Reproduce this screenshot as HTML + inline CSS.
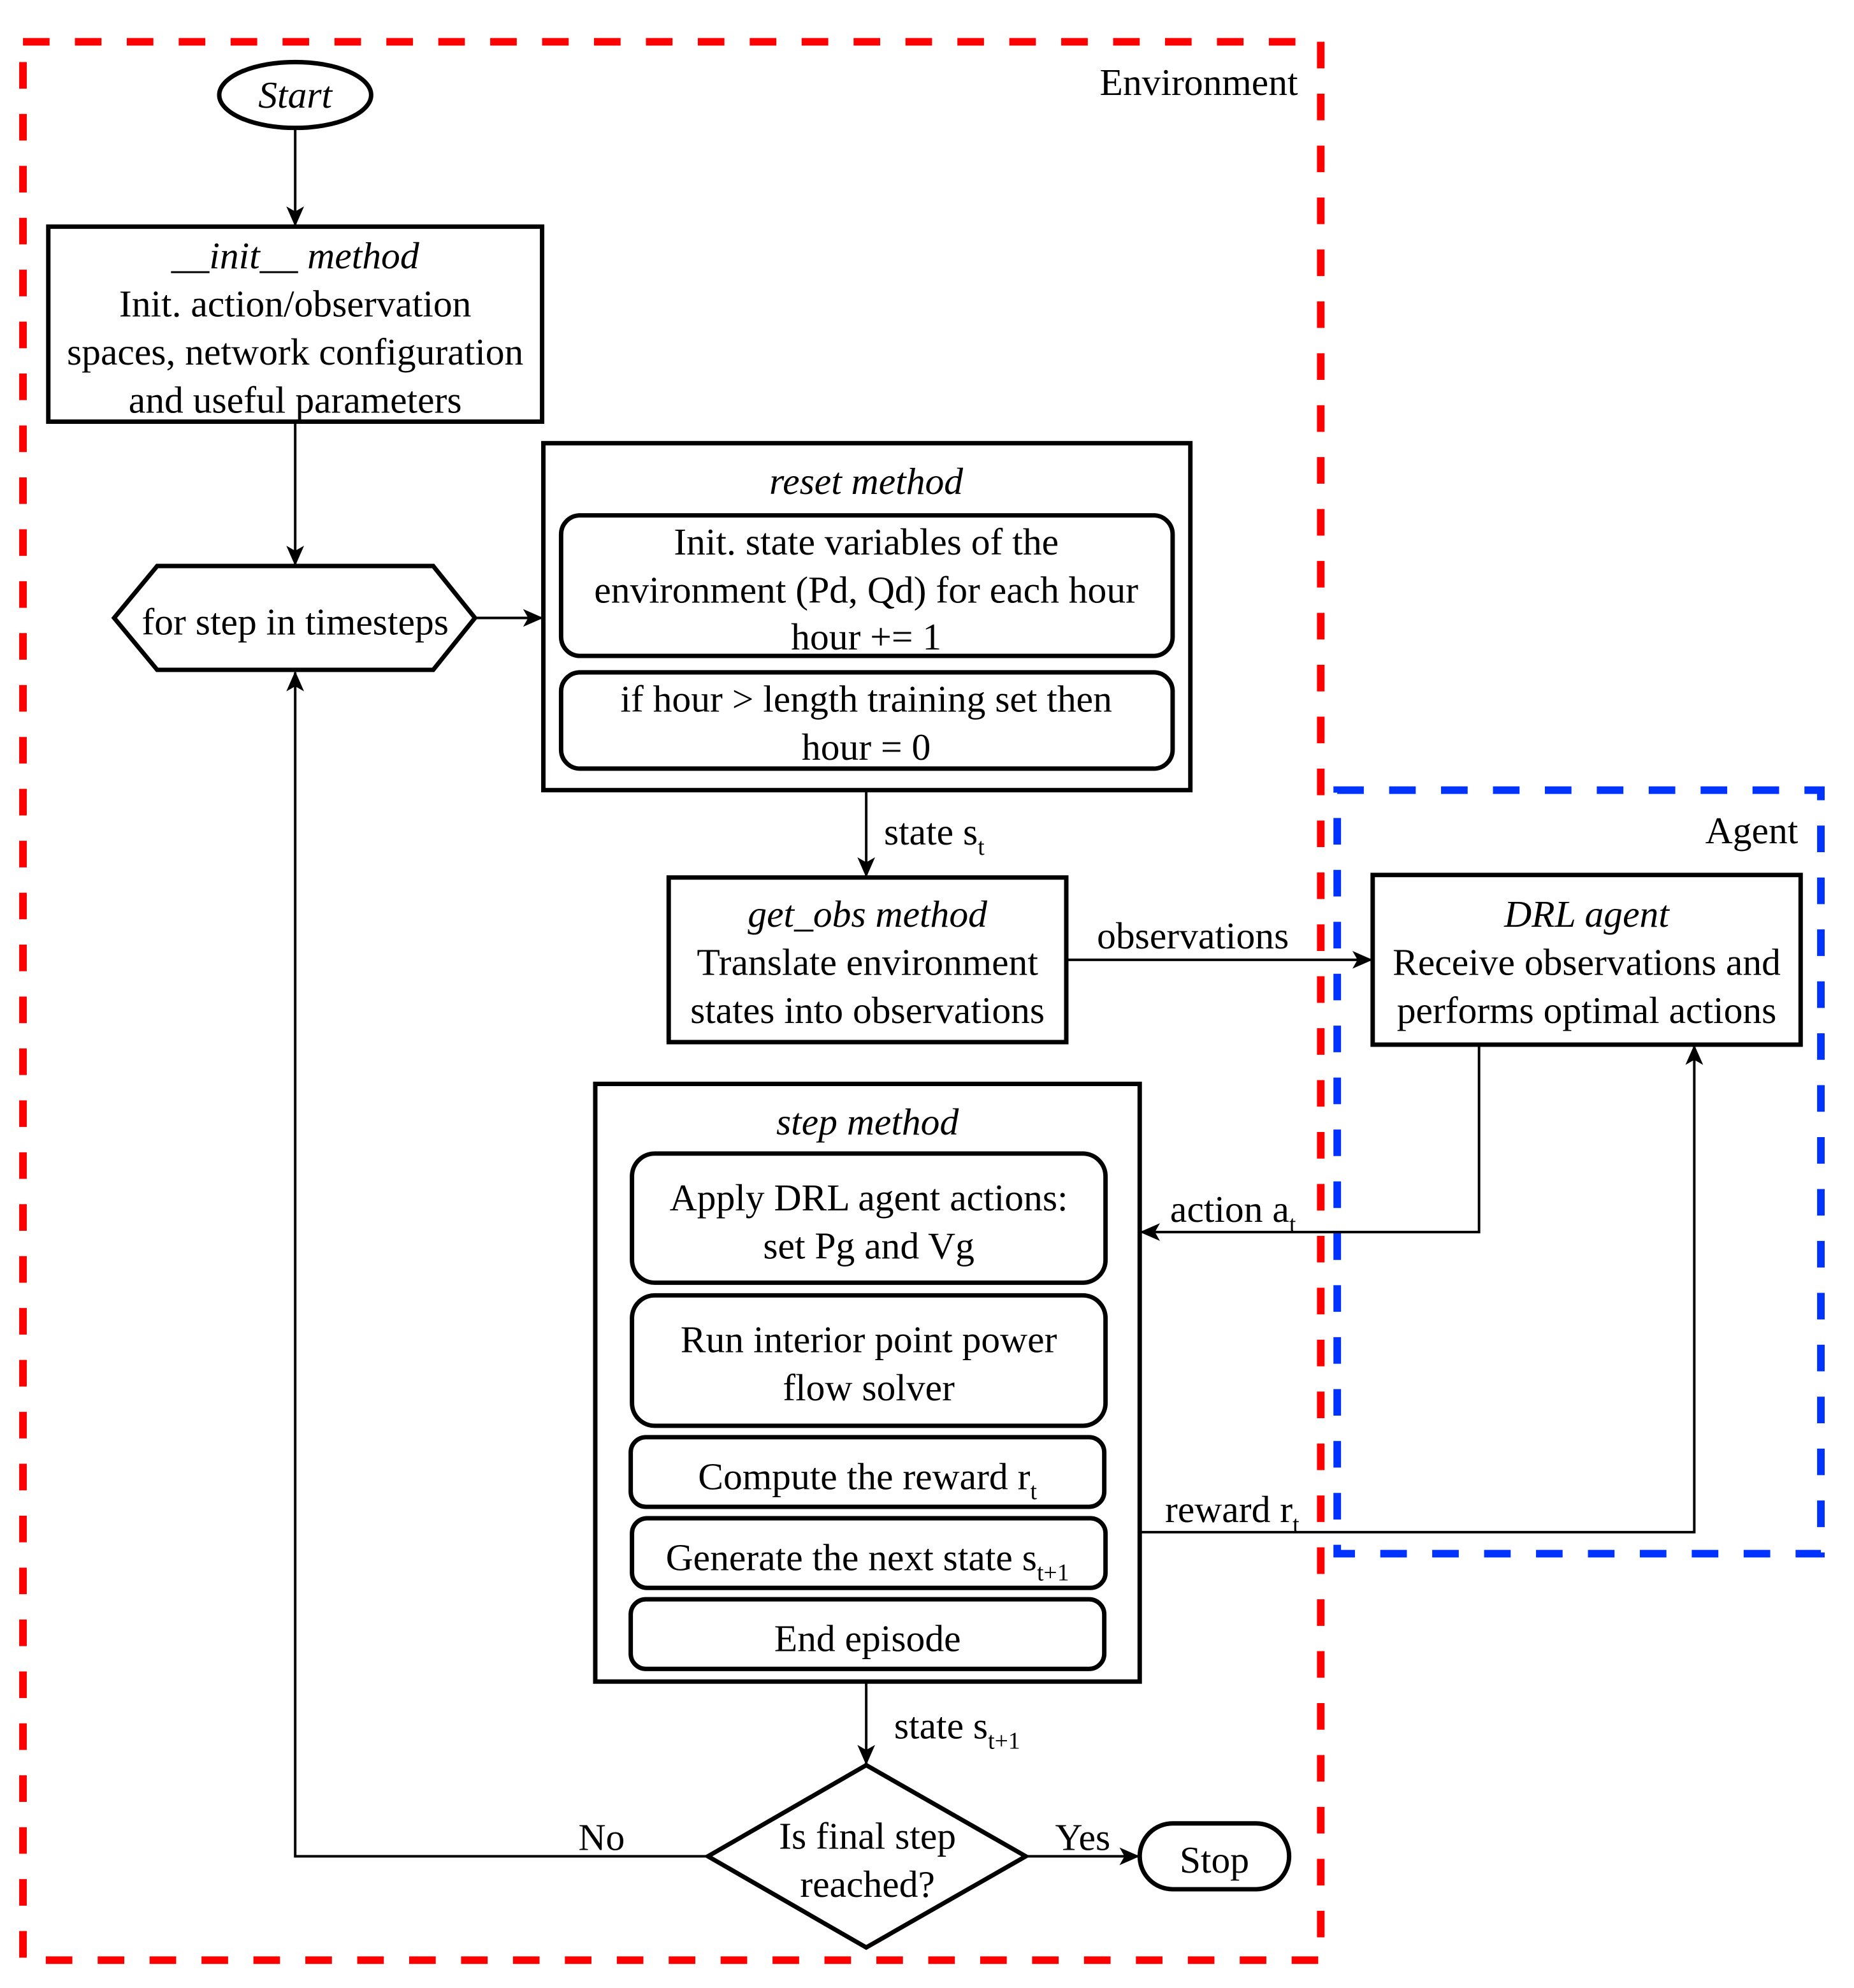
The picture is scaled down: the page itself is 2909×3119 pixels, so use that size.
<!DOCTYPE html>
<html><head><meta charset="utf-8"><style>html,body{margin:0;padding:0;background:#fff}svg{display:block}svg text{font-family:"Liberation Serif","Times New Roman",serif}</style></head>
<body>
<svg width="2909" height="3119" viewBox="0 0 1464 1570" xmlns="http://www.w3.org/2000/svg" font-size="30" text-anchor="middle">
<defs>
<marker id="b" markerWidth="16" markerHeight="14" refX="15" refY="7" orient="auto" markerUnits="userSpaceOnUse"><path d="M0,0 L16,7 L0,14 L4,7 z" fill="#000"/></marker></defs>
<rect x="18" y="33" width="1025" height="1515" fill="none" stroke="#ff0000" stroke-width="6" stroke-dasharray="21 20"/>
<rect x="1056" y="624" width="382" height="603" fill="none" stroke="#0033ff" stroke-width="6" stroke-dasharray="21 20"/>
<text x="1025" y="75" text-anchor="end">Environment</text>
<text x="1420" y="666" text-anchor="end">Agent</text>
<g fill="none" stroke="#000" stroke-width="3.5">
<ellipse cx="233" cy="75" rx="60" ry="26"/>
<rect x="38" y="179" width="390" height="154"/>
<polygon points="90,488 124,447 342,447 375,488 342,529 124,529"/>
<rect x="429" y="350" width="511" height="274"/>
<rect x="443" y="407" width="483" height="111" rx="15"/>
<rect x="443" y="531" width="483" height="76" rx="15"/>
<rect x="528" y="693" width="314" height="130"/>
<rect x="1084" y="691" width="338" height="134"/>
<rect x="470" y="856" width="430" height="472"/>
<rect x="499" y="911" width="374" height="102" rx="18"/>
<rect x="499" y="1023" width="374" height="103" rx="18"/>
<rect x="498" y="1135" width="374" height="55" rx="12"/>
<rect x="499" y="1199" width="374" height="55" rx="12"/>
<rect x="498" y="1263" width="374" height="55" rx="12"/>
<polygon points="559,1466 684,1394 810,1466 684,1538"/>
<rect x="900" y="1440" width="118" height="52" rx="26"/>
</g>
<g fill="none" stroke="#000" stroke-width="2">
<line x1="233" y1="101" x2="233" y2="178" marker-end="url(#b)"/>
<line x1="233" y1="333" x2="233" y2="446" marker-end="url(#b)"/>
<line x1="375" y1="488" x2="428" y2="488" marker-end="url(#b)"/>
<line x1="684" y1="624" x2="684" y2="692" marker-end="url(#b)"/>
<line x1="842" y1="758" x2="1083" y2="758" marker-end="url(#b)"/>
<polyline points="1168,825 1168,973 901,973" marker-end="url(#b)"/>
<polyline points="900,1210 1338,1210 1338,826" marker-end="url(#b)"/>
<line x1="684" y1="1328" x2="684" y2="1393" marker-end="url(#b)"/>
<polyline points="559,1466 233,1466 233,531" marker-end="url(#b)"/>
<line x1="810" y1="1466" x2="899" y2="1466" marker-end="url(#b)"/>
</g>
<text x="233" y="85" font-style="italic">Start</text>
<text x="233" y="212" font-style="italic">__init__ method</text>
<text x="233" y="250">Init. action/observation</text>
<text x="233" y="288">spaces, network configuration</text>
<text x="233" y="326">and useful parameters</text>
<text x="233" y="501">for step in timesteps</text>
<text x="684" y="390" font-style="italic">reset method</text>
<text x="684" y="438">Init. state variables of the</text>
<text x="684" y="476">environment (Pd, Qd) for each hour</text>
<text x="684" y="513">hour += 1</text>
<text x="684" y="562">if hour &gt; length training set then</text>
<text x="684" y="600">hour = 0</text>
<text x="698" y="667" text-anchor="start">state s<tspan font-size="19" dy="8">t</tspan></text>
<text x="685" y="732" font-style="italic">get_obs method</text>
<text x="685" y="770">Translate environment</text>
<text x="685" y="808">states into observations</text>
<text x="942" y="749">observations</text>
<text x="1253" y="732" font-style="italic">DRL agent</text>
<text x="1253" y="770">Receive observations and</text>
<text x="1253" y="808">performs optimal actions</text>
<text x="685" y="896" font-style="italic">step method</text>
<text x="686" y="956">Apply DRL agent actions:</text>
<text x="686" y="994">set Pg and Vg</text>
<text x="686" y="1068">Run interior point power</text>
<text x="686" y="1106">flow solver</text>
<text x="685" y="1176">Compute the reward r<tspan font-size="19" dy="8">t</tspan></text>
<text x="685" y="1240">Generate the next state s<tspan font-size="19" dy="8">t+1</tspan></text>
<text x="685" y="1304">End episode</text>
<text x="924" y="965" text-anchor="start">action a<tspan font-size="19" dy="8">t</tspan></text>
<text x="920" y="1202" text-anchor="start">reward r<tspan font-size="19" dy="8">t</tspan></text>
<text x="706" y="1373" text-anchor="start">state s<tspan font-size="19" dy="8">t+1</tspan></text>
<text x="685" y="1460">Is final step</text>
<text x="685" y="1498">reached?</text>
<text x="475" y="1461">No</text>
<text x="855" y="1461">Yes</text>
<text x="959" y="1479">Stop</text>
</svg>
</body></html>
